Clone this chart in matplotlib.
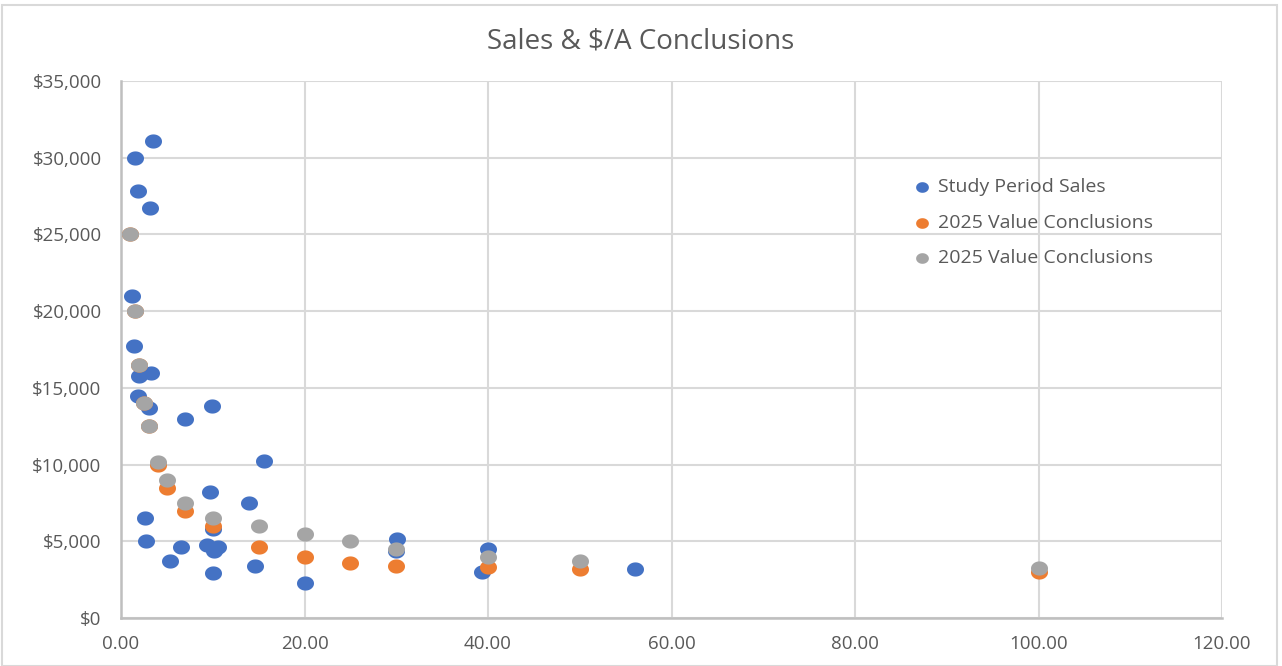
import numpy as np
import matplotlib
matplotlib.use("Agg")
import matplotlib.pyplot as plt
from matplotlib.path import Path
from matplotlib.ticker import FuncFormatter, MultipleLocator
from matplotlib.patches import Rectangle

plt.rcParams['font.family'] = ['Open Sans', 'DejaVu Sans']

# Study period sales (acres, $/acre)
sales_x = [3.5, 1.5, 1.8, 3.2, 1.2, 1.4, 2.0, 3.3, 1.8, 3.0, 7.0, 9.9, 15.6,
           9.7, 13.9, 2.6, 2.7, 6.5, 5.3, 9.4, 10.6, 10.1, 10.0, 10.0, 14.6,
           20.0, 30.1, 30.0, 40.0, 39.3, 56.0]
sales_y = [31100, 30000, 27800, 26700, 21000, 17700, 15800, 16000, 14500, 13700,
           13000, 13800, 10250, 8200, 7500, 6500, 5000, 4600, 3700, 4750, 4650,
           4350, 5800, 2950, 3400, 2250, 5150, 4350, 4500, 3000, 3200]

# 2025 value conclusions
concl_x = [1, 1.5, 2, 2.5, 3, 4, 5, 7, 10, 15, 20, 25, 30, 40, 50, 100]
concl_orange = [25000, 20000, 16500, 14000, 12500, 10000, 8500, 7000, 6000,
                4600, 4000, 3600, 3400, 3300, 3200, 3000]
concl_gray = [25000, 20000, 16500, 14000, 12500, 10200, 9000, 7500, 6500,
              6000, 5500, 5000, 4500, 4000, 3700, 3250]

# slightly wide ellipse marker like the Excel export
t = np.linspace(0, 2 * np.pi, 60)
ellipse = Path(np.column_stack([1.2 * np.cos(t), np.sin(t)]), closed=True)

fig = plt.figure(figsize=(12.82, 6.66), dpi=100)
ax = fig.add_axes([121 / 1282, 1 - 618 / 666, 1101 / 1282, 537 / 666])

ms = 150
ax.scatter(sales_x, sales_y, s=ms, marker=ellipse, color='#4472C4',
           linewidths=0, label='Study Period Sales', zorder=3)
ax.scatter(concl_x, concl_orange, s=ms, marker=ellipse, color='#ED7D31',
           linewidths=0, label='2025 Value Conclusions', zorder=3)
ax.scatter(concl_x, concl_gray, s=ms, marker=ellipse, color='#A5A5A5',
           linewidths=0, label='2025 Value Conclusions', zorder=3)

ax.set_xlim(0, 120)
ax.set_ylim(0, 35000)
ax.xaxis.set_major_locator(MultipleLocator(20))
ax.yaxis.set_major_locator(MultipleLocator(5000))
ax.xaxis.set_major_formatter(FuncFormatter(lambda v, p: f"{v:.2f}"))
ax.yaxis.set_major_formatter(FuncFormatter(lambda v, p: f"${v:,.0f}"))
ax.grid(True, color='#d9d9d9', linewidth=1.5, zorder=0)
ax.set_axisbelow(True)
for side in ['top', 'right']:
    ax.spines[side].set_visible(False)
for side in ['left', 'bottom']:
    ax.spines[side].set_color('#bfbfbf')
    ax.spines[side].set_linewidth(1.8)
ax.tick_params(length=0, labelsize=13.5, labelcolor='#595959')
ax.tick_params(axis='y', pad=14)
ax.tick_params(axis='x', pad=12)

fig.text(0.5, 1 - 42 / 666, 'Sales & $/A Conclusions', ha='center', va='center',
         fontsize=20, color='#595959')

leg = ax.legend(loc='upper left', bbox_to_anchor=(0.71, 0.837), frameon=False,
                fontsize=14, labelcolor='#595959', handletextpad=0.3,
                handlelength=1.0, labelspacing=0.9, markerscale=0.75,
                borderpad=0)

fig.patches.append(Rectangle((2 / 1282, 0), 1275 / 1282, 1 - 5 / 666,
                             transform=fig.transFigure, fill=False,
                             edgecolor='#d9d9d9', linewidth=1.5))

fig.savefig('out.png', dpi=100)
